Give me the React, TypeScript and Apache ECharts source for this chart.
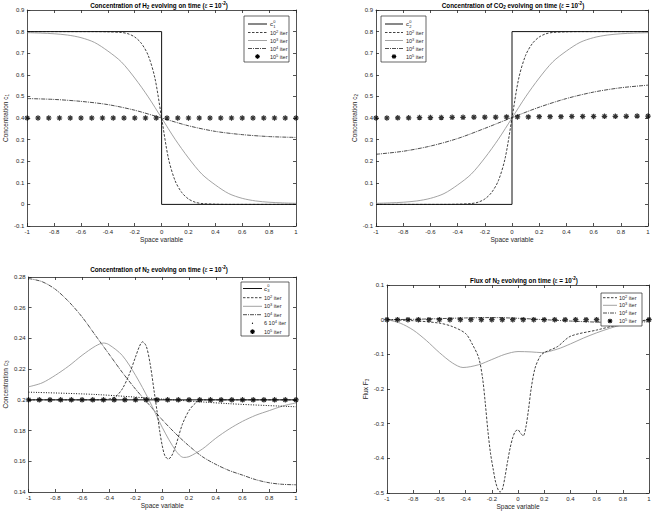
import React, { useEffect, useRef } from 'react';
import * as echarts from 'echarts';

const FONT = '"Liberation Sans", Arial, Helvetica, sans-serif';
const INK = '#262626';

// x positions of the 10^5 iteration markers (shared)
const starX = [-1, -0.92, -0.84, -0.76, -0.68, -0.6, -0.52, -0.44, -0.36, -0.28, -0.2, -0.12, -0.04, 0.04, 0.12, 0.2, 0.28, 0.36, 0.44, 0.52, 0.6, 0.68, 0.76, 0.84, 0.92, 1];

// ---------- Panel 1: H2 ----------
const h2InitX = [-1, 0, 0, 1];
const h2Init = [0.8, 0.8, 0, 0];
const h2It2X = [-1, -0.5, -0.4, -0.3, -0.25, -0.2, -0.15, -0.1, -0.05, 0, 0.05, 0.1, 0.15, 0.2, 0.25, 0.3, 0.4, 0.5, 1];
const h2It2 = [0.8, 0.8, 0.799, 0.796, 0.79, 0.775, 0.745, 0.69, 0.585, 0.4, 0.215, 0.11, 0.055, 0.025, 0.01, 0.004, 0.001, 0, 0];
const h2It3X = [-1, -0.9, -0.8, -0.7, -0.6, -0.5, -0.4, -0.3, -0.2, -0.1, 0, 0.1, 0.2, 0.3, 0.4, 0.5, 0.6, 0.7, 0.8, 0.9, 1];
const h2It3 = [0.795, 0.793, 0.79, 0.784, 0.772, 0.75, 0.71, 0.66, 0.585, 0.498, 0.4, 0.302, 0.215, 0.14, 0.09, 0.05, 0.028, 0.016, 0.01, 0.007, 0.005];
const h2It4X = [-1, -0.8, -0.6, -0.4, -0.2, 0, 0.2, 0.4, 0.6, 0.8, 1];
const h2It4 = [0.49, 0.486, 0.477, 0.462, 0.436, 0.4, 0.364, 0.338, 0.323, 0.314, 0.31];
const h2It5 = [0.4, 0.4, 0.4, 0.4, 0.4, 0.4, 0.4, 0.4, 0.4, 0.4, 0.4, 0.4, 0.4, 0.4, 0.4, 0.4, 0.4, 0.4, 0.4, 0.4, 0.4, 0.4, 0.4, 0.4, 0.4, 0.4];

// ---------- Panel 2: CO2 ----------
const co2InitX = [-1, 0, 0, 1];
const co2Init = [0, 0, 0.8, 0.8];
const co2It2X = [-1, -0.5, -0.4, -0.3, -0.25, -0.2, -0.15, -0.1, -0.05, 0, 0.05, 0.1, 0.15, 0.2, 0.25, 0.3, 0.4, 0.5, 1];
const co2It2 = [0, 0, 0.001, 0.004, 0.01, 0.025, 0.055, 0.11, 0.215, 0.4, 0.585, 0.69, 0.745, 0.775, 0.79, 0.796, 0.799, 0.8, 0.8];
const co2It3X = [-1, -0.9, -0.8, -0.7, -0.6, -0.5, -0.4, -0.3, -0.2, -0.1, 0, 0.1, 0.2, 0.3, 0.4, 0.5, 0.6, 0.7, 0.8, 0.9, 1];
const co2It3 = [0.005, 0.007, 0.01, 0.016, 0.028, 0.05, 0.09, 0.14, 0.215, 0.302, 0.4, 0.498, 0.585, 0.66, 0.71, 0.75, 0.772, 0.784, 0.79, 0.793, 0.795];
const co2It4X = [-1, -0.8, -0.6, -0.4, -0.2, 0, 0.2, 0.4, 0.6, 0.8, 1];
const co2It4 = [0.232, 0.246, 0.27, 0.305, 0.352, 0.402, 0.45, 0.49, 0.52, 0.54, 0.552];
const co2It5 = [0.4, 0.4, 0.401, 0.401, 0.402, 0.402, 0.402, 0.403, 0.403, 0.404, 0.404, 0.404, 0.405, 0.405, 0.405, 0.406, 0.406, 0.406, 0.407, 0.407, 0.407, 0.408, 0.408, 0.408, 0.409, 0.409];

// ---------- Panel 3: N2 ----------
const n2InitX = [-1, 1];
const n2Init = [0.2, 0.2];
const n2It2X = [-1, -0.5, -0.4, -0.35, -0.3, -0.25, -0.2, -0.17, -0.148, -0.12, -0.09, -0.06, -0.04, -0.02, 0, 0.02, 0.045, 0.07, 0.1, 0.15, 0.2, 0.25, 0.3, 0.4, 1];
const n2It2 = [0.2, 0.2, 0.2005, 0.202, 0.207, 0.216, 0.228, 0.235, 0.2378, 0.235, 0.223, 0.205, 0.193, 0.18, 0.17, 0.1635, 0.1615, 0.1635, 0.17, 0.184, 0.193, 0.198, 0.2, 0.2, 0.2];
const n2It3X = [-1, -0.9, -0.8, -0.7, -0.6, -0.5, -0.44, -0.4, -0.3, -0.2, -0.1, 0, 0.1, 0.16, 0.2, 0.3, 0.4, 0.5, 0.6, 0.7, 0.8, 0.9, 1];
const n2It3 = [0.2085, 0.211, 0.216, 0.222, 0.229, 0.235, 0.237, 0.236, 0.229, 0.216, 0.2, 0.182, 0.167, 0.1625, 0.163, 0.168, 0.175, 0.181, 0.186, 0.19, 0.193, 0.196, 0.198];
const n2It4X = [-1, -0.9, -0.8, -0.7, -0.6, -0.5, -0.4, -0.3, -0.2, -0.1, 0, 0.1, 0.2, 0.3, 0.4, 0.5, 0.6, 0.7, 0.8, 0.9, 1];
const n2It4 = [0.279, 0.277, 0.272, 0.264, 0.254, 0.242, 0.23, 0.218, 0.207, 0.197, 0.187, 0.178, 0.17, 0.163, 0.158, 0.154, 0.151, 0.148, 0.146, 0.145, 0.1447];
const n2It6X = [-1, -0.5, 0, 0.5, 1];
const n2It6 = [0.205, 0.2035, 0.2005, 0.1975, 0.1955];
const n2It5 = [0.2, 0.2, 0.2, 0.2, 0.2, 0.2, 0.2, 0.2, 0.2, 0.2, 0.2, 0.2, 0.2, 0.2, 0.2, 0.2, 0.2, 0.2, 0.2, 0.2, 0.2, 0.2, 0.2, 0.2, 0.2, 0.2];

// ---------- Panel 4: flux of N2 ----------
const flIt2X = [-1, -0.8, -0.6, -0.5, -0.4, -0.35, -0.3, -0.27, -0.25, -0.23, -0.21, -0.19, -0.17, -0.15, -0.137, -0.12, -0.1, -0.08, -0.06, -0.04, -0.02, 0, 0.02, 0.04, 0.06, 0.08, 0.1, 0.13, 0.17, 0.2, 0.3, 0.4, 0.6, 0.8, 1];
const flIt2 = [0, -0.003, -0.01, -0.02, -0.04, -0.07, -0.11, -0.17, -0.24, -0.32, -0.385, -0.43, -0.47, -0.492, -0.497, -0.49, -0.455, -0.41, -0.37, -0.34, -0.322, -0.318, -0.328, -0.335, -0.31, -0.26, -0.2, -0.14, -0.105, -0.095, -0.078, -0.048, -0.03, -0.012, 0];
const flIt3X = [-1, -0.9, -0.8, -0.7, -0.6, -0.5, -0.42, -0.3, -0.2, -0.1, 0, 0.1, 0.18, 0.3, 0.4, 0.5, 0.6, 0.7, 0.8, 0.9, 1];
const flIt3 = [0, -0.01, -0.03, -0.06, -0.095, -0.125, -0.138, -0.13, -0.115, -0.1, -0.092, -0.093, -0.095, -0.085, -0.07, -0.053, -0.038, -0.025, -0.014, -0.006, -0.002];
const flIt4X = [-1, -0.8, -0.6, -0.4, -0.2, 0, 0.2, 0.4, 0.6, 0.8, 1];
const flIt4 = [0, 0.001, 0.003, 0.005, 0.006, 0.004, 0, -0.004, -0.007, -0.008, -0.006];
const flIt5 = [0, 0, 0, 0, 0, 0, 0, 0, 0, 0, 0, 0, 0, 0, 0, 0, 0, 0, 0, 0, 0, 0, 0, 0, 0, 0];

const zip = (xs: number[], ys: number[]) => xs.map((x, i) => [x, ys[i]]);

// thick asterisk marker (MATLAB '*')
const STAR = 'path://M-1.1,-5L1.1,-5L1.1,5L-1.1,5Z M-5,-1.1L5,-1.1L5,1.1L-5,1.1Z M-2.8,-4.3L4.3,2.8L2.8,4.3L-4.3,-2.8Z M2.8,-4.3L4.3,-2.8L-2.8,4.3L-4.3,2.8Z';

const STY: Record<string, { color: string; width: number; type: any }> = {
  init: { color: '#111', width: 1, type: 'solid' },
  it2: { color: '#111', width: 0.8, type: [2.5, 1.5] },
  it3: { color: '#999', width: 0.9, type: 'solid' },
  it4: { color: '#3a3a3a', width: 0.9, type: [4, 1, 1, 1] },
  it6: { color: '#111', width: 1, type: [1, 1.5] },
};

const grids = [
  { left: 23, top: 10, width: 273, height: 216 },
  { left: 376, top: 10, width: 272, height: 216 },
  { left: 23, top: 277, width: 273, height: 215 },
  { left: 387, top: 285, width: 262, height: 208 },
];
const yRanges = [
  { min: -0.1, max: 0.9, interval: 0.1, name: 'Concentration c{sub|1}', gap: 13 },
  { min: -0.1, max: 0.9, interval: 0.1, name: 'Concentration c{sub|2}', gap: 13 },
  { min: 0.14, max: 0.28, interval: 0.02, name: 'Concentration c{sub|3}', gap: 13 },
  { min: -0.5, max: 0.1, interval: 0.1, name: 'Flux F{sub|3}', gap: 15 },
];

const axisLineStyle = { color: INK, width: 0.8 };
const richSub = { sub: { fontSize: 4.6, verticalAlign: 'bottom', lineHeight: 4, fontFamily: FONT, color: INK } };

function buildAxes() {
  const xAxis: any[] = [];
  const yAxis: any[] = [];
  grids.forEach((_, i) => {
    xAxis.push({
      type: 'value', gridIndex: i, min: -1, max: 1, interval: 0.2, position: 'bottom',
      axisLine: { onZero: false, lineStyle: axisLineStyle },
      axisTick: { inside: true, length: 3, lineStyle: axisLineStyle },
      axisLabel: { fontSize: 6, color: INK, fontFamily: FONT, margin: 3, showMinLabel: true, showMaxLabel: true },
      splitLine: { show: false },
      name: 'Space variable', nameLocation: 'middle', nameGap: 10,
      nameTextStyle: { fontSize: 6.5, color: INK, fontFamily: FONT },
    });
    xAxis.push({
      type: 'value', gridIndex: i, min: -1, max: 1, interval: 0.2, position: 'top',
      axisLine: { onZero: false, lineStyle: axisLineStyle },
      axisTick: { inside: true, length: 3, lineStyle: axisLineStyle },
      axisLabel: { show: false }, splitLine: { show: false },
    });
    const r = yRanges[i];
    yAxis.push({
      type: 'value', gridIndex: i, min: r.min, max: r.max, interval: r.interval, position: 'left',
      axisLine: { onZero: false, lineStyle: axisLineStyle },
      axisTick: { inside: true, length: 3, lineStyle: axisLineStyle },
      axisLabel: { fontSize: 6, color: INK, fontFamily: FONT, margin: 3, showMinLabel: true, showMaxLabel: true },
      splitLine: { show: false },
      name: r.name, nameLocation: 'middle', nameGap: r.gap, nameRotate: 90,
      nameTextStyle: { fontSize: 6.5, color: INK, fontFamily: FONT, lineHeight: 9, rich: richSub },
    });
    yAxis.push({
      type: 'value', gridIndex: i, min: r.min, max: r.max, interval: r.interval, position: 'right',
      axisLine: { onZero: false, lineStyle: axisLineStyle },
      axisTick: { inside: true, length: 3, lineStyle: axisLineStyle },
      axisLabel: { show: false }, splitLine: { show: false },
    });
  });
  return { xAxis, yAxis };
}

function line(g: number, xs: number[], ys: number[], kind: string, smooth = true) {
  const s = STY[kind];
  return {
    type: 'line', xAxisIndex: 2 * g, yAxisIndex: 2 * g, data: zip(xs, ys),
    showSymbol: false, symbol: 'none', smooth: smooth ? 0.3 : false, silent: true,
    lineStyle: { color: s.color, width: s.width, type: s.type },
  };
}
function stars(g: number, ys: number[]) {
  return {
    type: 'scatter', xAxisIndex: 2 * g, yAxisIndex: 2 * g, data: zip(starX, ys),
    symbol: STAR, symbolSize: 5.5, itemStyle: { color: '#000' }, silent: true, z: 3,
  };
}

const titleRich = {
  sub: { fontSize: 4.6, fontWeight: 'bold', verticalAlign: 'bottom', lineHeight: 4, fontFamily: FONT, fill: '#000' },
  sup: { fontSize: 4.6, fontWeight: 'bold', verticalAlign: 'top', lineHeight: 4, fontFamily: FONT, fill: '#000' },
  it: { fontSize: 6.3, fontStyle: 'italic', fontWeight: 'normal', fontFamily: FONT, fill: '#000' },
};
function title(x: number, y: number, text: string) {
  return {
    type: 'text', x, y, z: 110,
    style: { text, fontSize: 6.3, fontWeight: 'bold', fontFamily: FONT, fill: '#000', align: 'center', verticalAlign: 'middle', lineHeight: 9, rich: titleRich },
  };
}

const legRich = {
  sup: { fontSize: 4, verticalAlign: 'top', lineHeight: 3, fontFamily: FONT, fill: INK },
};

type Row = { y: number; kind: string; text?: string; cSub?: string };
function legend(left: number, top: number, w: number, h: number, x0: number, x1: number, tx: number, rows: Row[]) {
  const els: any[] = [{ type: 'rect', z: 100, shape: { x: left, y: top, width: w, height: h }, style: { fill: '#fff', stroke: INK, lineWidth: 0.7 } }];
  rows.forEach((r) => {
    const mid = (x0 + x1) / 2;
    if (r.kind === 'it5') {
      const a = 2.3;
      const d = 1.7;
      [[-a, 0, a, 0], [0, -a, 0, a], [-d, -d, d, d], [-d, d, d, -d]].forEach((p) =>
        els.push({ type: 'line', z: 101, shape: { x1: mid + p[0], y1: r.y + p[1], x2: mid + p[2], y2: r.y + p[3] }, style: { stroke: '#000', lineWidth: 1.2 } }));
    } else if (r.kind === 'dot') {
      els.push({ type: 'circle', z: 101, shape: { cx: mid, cy: r.y, r: 0.6 }, style: { fill: '#000' } });
    } else {
      const s = STY[r.kind];
      els.push({ type: 'line', z: 101, shape: { x1: x0, y1: r.y, x2: x1, y2: r.y }, style: { stroke: s.color, lineWidth: s.width, lineDash: Array.isArray(s.type) ? s.type : null } });
    }
    if (r.cSub) {
      els.push({ type: 'text', z: 101, x: tx, y: r.y, style: { text: 'c', fontSize: 6, fontFamily: FONT, fill: INK, verticalAlign: 'middle' } });
      els.push({ type: 'text', z: 101, x: tx + 3.3, y: r.y + 2, style: { text: r.cSub, fontSize: 4, fontFamily: FONT, fill: INK, verticalAlign: 'middle' } });
      els.push({ type: 'text', z: 101, x: tx + 3.3, y: r.y - 2.6, style: { text: '0', fontSize: 4, fontFamily: FONT, fill: INK, verticalAlign: 'middle' } });
    } else if (r.text) {
      els.push({ type: 'text', z: 101, x: tx, y: r.y, style: { text: r.text, fontSize: 5.5, fontFamily: FONT, fill: INK, verticalAlign: 'middle', lineHeight: 7, rich: legRich } });
    }
  });
  return els;
}

function buildOption() {
  const { xAxis, yAxis } = buildAxes();
  const series = [
    line(0, h2It4X, h2It4, 'it4'),
    line(0, h2It3X, h2It3, 'it3'),
    line(0, h2It2X, h2It2, 'it2'),
    line(0, h2InitX, h2Init, 'init', false),
    stars(0, h2It5),
    line(1, co2It4X, co2It4, 'it4'),
    line(1, co2It3X, co2It3, 'it3'),
    line(1, co2It2X, co2It2, 'it2'),
    line(1, co2InitX, co2Init, 'init', false),
    stars(1, co2It5),
    line(2, n2It4X, n2It4, 'it4'),
    line(2, n2It3X, n2It3, 'it3'),
    line(2, n2It2X, n2It2, 'it2'),
    line(2, n2It6X, n2It6, 'it6'),
    line(2, n2InitX, n2Init, 'init', false),
    stars(2, n2It5),
    line(3, flIt4X, flIt4, 'it4'),
    line(3, flIt3X, flIt3, 'it3'),
    line(3, flIt2X, flIt2, 'it2'),
    stars(3, flIt5),
  ];
  const graphic = [
    title(159, 5, 'Concentration of H{sub|2} evolving on time ({it|ε} = 10{sup|-2})'),
    title(513, 5, 'Concentration of CO{sub|2} evolving on time ({it|ε} = 10{sup|-2})'),
    title(159, 269, 'Concentration of N{sub|2} evolving on time ({it|ε} = 10{sup|-2})'),
    title(524, 280, 'Flux of N{sub|2} evolving on time ({it|ε} = 10{sup|-2})'),
    ...legend(244, 16, 45, 46, 248, 267, 270, [
      { y: 24, kind: 'init', cSub: '1' },
      { y: 32.5, kind: 'it2', text: '10{sup|2} iter' },
      { y: 40.5, kind: 'it3', text: '10{sup|3} iter' },
      { y: 48.5, kind: 'it4', text: '10{sup|4} iter' },
      { y: 56.5, kind: 'it5', text: '10{sup|5} iter' },
    ]),
    ...legend(381, 16, 45, 46, 385, 403, 406, [
      { y: 24, kind: 'init', cSub: '2' },
      { y: 32.5, kind: 'it2', text: '10{sup|2} iter' },
      { y: 40.5, kind: 'it3', text: '10{sup|3} iter' },
      { y: 48.5, kind: 'it4', text: '10{sup|4} iter' },
      { y: 56.5, kind: 'it5', text: '10{sup|5} iter' },
    ]),
    ...legend(241, 282, 48, 54, 243, 262, 264, [
      { y: 288.5, kind: 'init', cSub: '3' },
      { y: 297.7, kind: 'it2', text: '10{sup|2} iter' },
      { y: 306.3, kind: 'it3', text: '10{sup|3} iter' },
      { y: 314.7, kind: 'it4', text: '10{sup|4} iter' },
      { y: 323.3, kind: 'dot', text: '6 10{sup|4} iter' },
      { y: 331.7, kind: 'it5', text: '10{sup|5} iter' },
    ]),
    ...legend(601, 293, 41, 33, 603, 617, 619, [
      { y: 297.7, kind: 'it2', text: '10{sup|2} iter' },
      { y: 305.3, kind: 'it3', text: '10{sup|3} iter' },
      { y: 313, kind: 'it4', text: '10{sup|4} iter' },
      { y: 321, kind: 'it5', text: '10{sup|5} iter' },
    ]),
  ];
  return {
    animation: false,
    backgroundColor: '#fff',
    grid: grids.map((g) => ({ ...g, containLabel: false })),
    xAxis, yAxis, series, graphic,
  };
}

export default function App() {
  const ref = useRef<HTMLDivElement>(null);
  useEffect(() => {
    if (!ref.current) return;
    const chart = echarts.init(ref.current, undefined, { renderer: 'svg' });
    chart.setOption(buildOption() as any);
    return () => chart.dispose();
  }, []);
  return <div ref={ref} style={{ position: 'fixed', left: 0, top: 0, width: 654, height: 518, background: '#fff' }} />;
}
